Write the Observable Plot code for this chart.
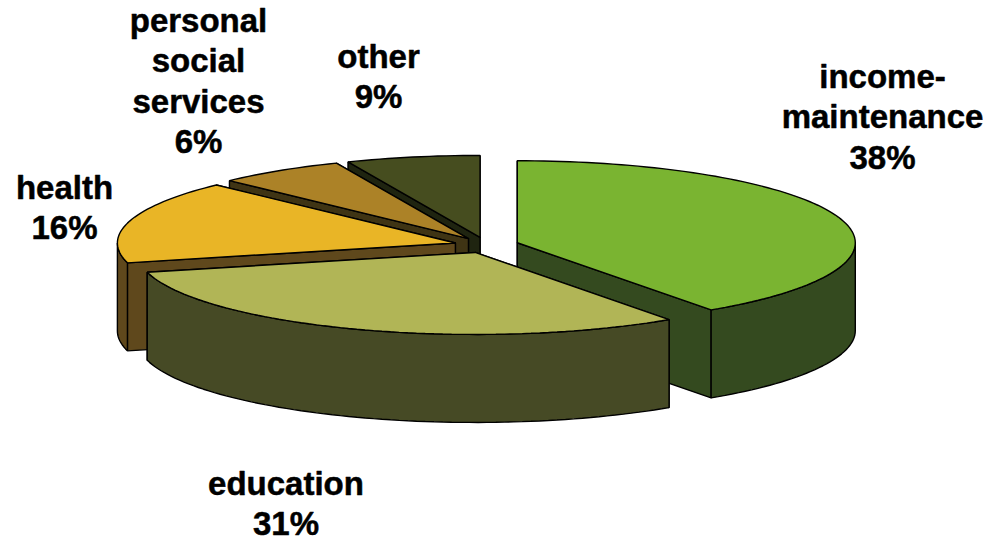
<!DOCTYPE html>
<html>
<head>
<meta charset="utf-8">
<style>
  html, body { margin: 0; padding: 0; background: #fff; }
  svg { display: block; }
</style>
<script src="https://cdn.jsdelivr.net/npm/d3@7"></script>
<script src="https://cdn.jsdelivr.net/npm/@observablehq/plot@0.6"></script>
</head>
<body>
<div id="chart"></div>
<script>
// ---- data ----
const categories   = ["income-\nmaintenance", "education", "health", "personal\nsocial\nservices", "other"];
const labelPercent = [38, 31, 16, 6, 9];
// the sweep each slice occupies in the drawing (degrees, clockwise from 12 o'clock)
const drawnSweep   = [145, 111, 59, 22, 23];
const topColors    = ["#7ab431", "#b1b556", "#e9b526", "#ac8227", "#464d1f"];
const sideColors   = ["#344a1f", "#464a25", "#5f481c", "#3f3414", "#1f2410"];

// ---- pie geometry ----
const cx = 486, cy = 244.6, rx = 338, ry = 82, depth = 88, explode = 0.0955;
const rad = (d) => d * Math.PI / 180;

const starts = d3.cumsum([0, ...drawnSweep]);
const slices = categories.map((name, i) => {
  const a0 = starts[i], a1 = starts[i + 1], mid = rad((a0 + a1) / 2);
  return {
    i, name, a0, a1,
    ox: cx + explode * rx * Math.sin(mid),
    oy: cy - explode * ry * Math.cos(mid)
  };
});

const rimPoint = (s, deg, drop = 0) => ({
  x: s.ox + rx * Math.sin(rad(deg)),
  y: s.oy - ry * Math.cos(rad(deg)) + drop
});
const arc = (s, a0, a1, drop = 0) => {
  const n = Math.max(2, Math.ceil((a1 - a0) / 1.5));
  return d3.range(n + 1).map((k) => rimPoint(s, a0 + (a1 - a0) * k / n, drop));
};

const rows = [];
const addPolygon = (id, color, pts) => {
  [...pts, pts[0]].forEach((p) => rows.push({ id, color, x: p.x, y: p.y }));
};

// back-to-front painting order: other, personal, health, income, education
[4, 3, 2, 0, 1].forEach((idx) => {
  const s = slices[idx];
  const apex = { x: s.ox, y: s.oy };
  const apexLow = { x: s.ox, y: s.oy + depth };
  const wall = (deg) => {
    const p = rimPoint(s, deg), q = rimPoint(s, deg, depth);
    return { deg, pts: [apex, p, q, apexLow], meanY: (p.y + apex.y) / 2 };
  };
  // radial walls, the one further back first
  [wall(s.a0), wall(s.a1)]
    .sort((a, b) => d3.ascending(a.meanY, b.meanY))
    .forEach((w, k) => addPolygon(`${idx}-wall${k}`, sideColors[idx], w.pts));
  // the outer wall, only where the rim faces the viewer
  const from = Math.max(s.a0, 90), to = Math.min(s.a1, 270);
  if (to > from) {
    addPolygon(`${idx}-rim`, sideColors[idx], [
      ...arc(s, from, to),
      ...arc(s, from, to, depth).reverse()
    ]);
  }
  // the top face
  addPolygon(`${idx}-top`, topColors[idx], [apex, ...arc(s, s.a0, s.a1)]);
});

// ---- label placement (block centre x, first baseline y) ----
const labelAt = [[882, 87], [285.5, 494], [64, 198], [198, 31], [378, 67]];
const fontSize = 33;
const labels = categories.map((name, i) => ({
  text: `${name}\n${labelPercent[i]}%`,
  x: labelAt[i][0],
  y: labelAt[i][1] - 0.71 * fontSize - 5
}));

const chart = Plot.plot({
  width: 988,
  height: 541,
  margin: 0,
  style: { background: "#fff" },
  x: { domain: [0, 988], range: [0, 988], axis: null },
  y: { domain: [0, 541], range: [0, 541], axis: null },
  color: { type: "identity" },
  marks: [
    Plot.line(rows, {
      x: "x", y: "y", z: "id",
      fill: "color",
      stroke: "#000",
      strokeWidth: 1.4,
      strokeLinejoin: "miter"
    }),
    Plot.text(labels, {
      x: "x", y: "y", text: "text",
      textAnchor: "middle",
      lineAnchor: "top",
      lineHeight: 40.5 / fontSize,
      fontSize,
      fontWeight: "bold",
      fontFamily: "Liberation Sans, Arial, sans-serif",
      fill: "#000",
      stroke: "#000",
      strokeWidth: 0.5
    })
  ]
});
document.getElementById("chart").append(chart);
</script>
</body>
</html>
